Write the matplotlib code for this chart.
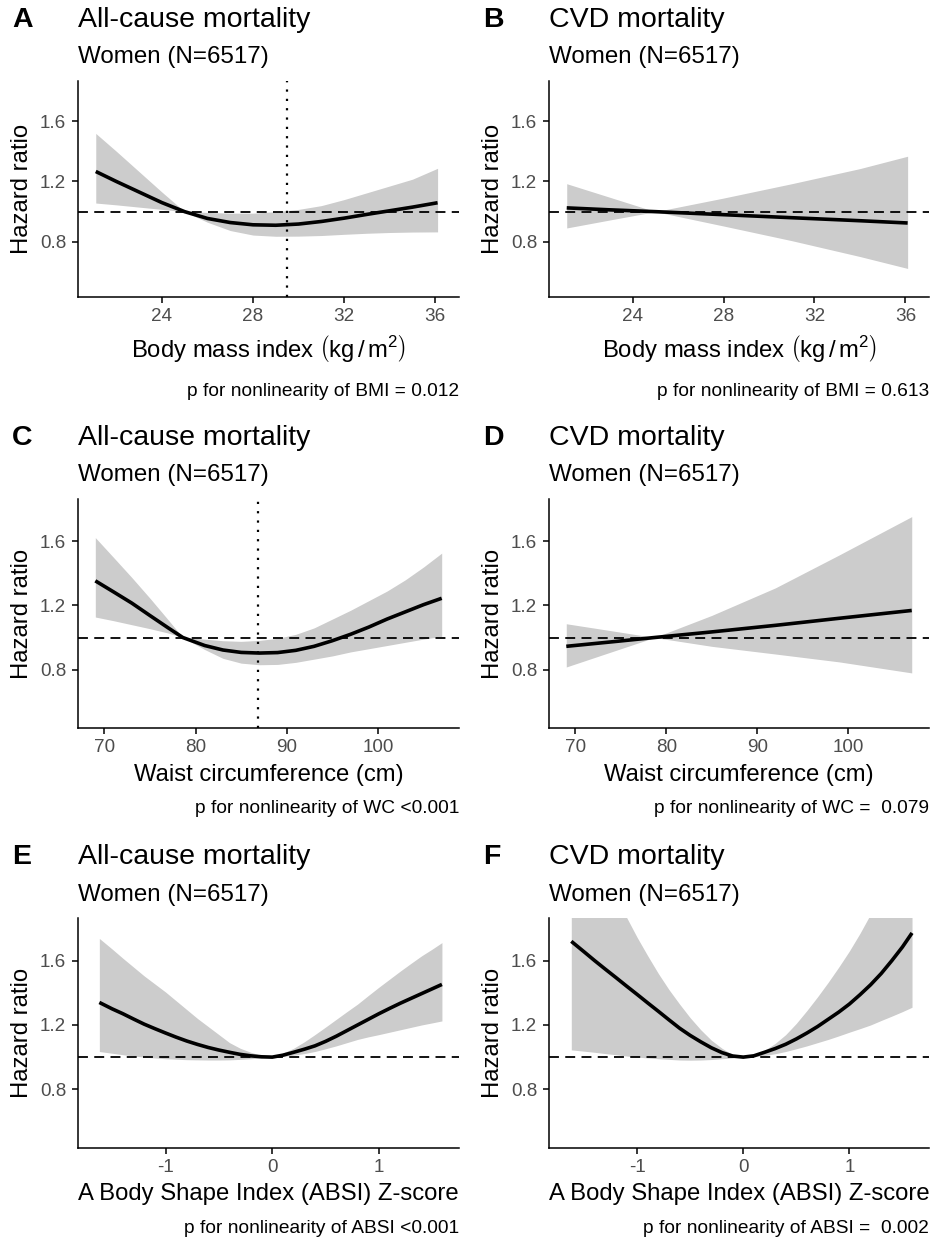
import matplotlib
matplotlib.use("Agg")
import matplotlib.pyplot as plt

plt.rcParams['font.family'] = ['Liberation Sans', 'DejaVu Sans']
plt.rcParams['mathtext.fontset'] = 'custom'
plt.rcParams['mathtext.rm'] = 'Liberation Sans'
plt.rcParams['mathtext.it'] = 'Liberation Sans:italic'
plt.rcParams['mathtext.bf'] = 'Liberation Sans:bold'

# ---------------- data ----------------
# Body mass index (kg/m^2)
bmi_x = [21.1, 22, 23, 24, 25, 26, 27, 28, 29, 30, 31, 32, 33, 34, 35, 36.1]
allcause_bmi_hr = [1.266, 1.20, 1.13, 1.06, 1.0, 0.955, 0.928, 0.913, 0.910, 0.918,
                   0.935, 0.957, 0.982, 1.006, 1.03, 1.059]
allcause_bmi_lo = [1.057, 1.045, 1.03, 1.015, 1.0, 0.93, 0.875, 0.845, 0.837, 0.838,
                   0.842, 0.85, 0.857, 0.862, 0.865, 0.866]
allcause_bmi_hi = [1.518, 1.40, 1.265, 1.13, 1.0, 0.995, 0.99, 0.99, 1.0, 1.015,
                   1.04, 1.08, 1.125, 1.17, 1.215, 1.287]

bmi_x_cvd = [21.1, 23, 25, 28, 31, 34, 36.1]
cvd_bmi_hr = [1.025, 1.012, 1.0, 0.98, 0.96, 0.94, 0.925]
cvd_bmi_lo = [0.892, 0.945, 1.0, 0.905, 0.808, 0.703, 0.624]
cvd_bmi_hi = [1.185, 1.095, 1.0, 1.09, 1.185, 1.285, 1.367]

# Waist circumference (cm)
wc_x = [69, 71, 73, 75, 77, 78.6, 81, 83, 85, 87, 89, 91, 93, 95, 97, 99, 101, 103, 105, 107]
allcause_wc_hr = [1.354, 1.285, 1.215, 1.137, 1.06, 1.0, 0.95, 0.922, 0.907, 0.903,
                  0.906, 0.92, 0.945, 0.98, 1.02, 1.065, 1.115, 1.16, 1.205, 1.245]
allcause_wc_lo = [1.128, 1.105, 1.08, 1.055, 1.028, 1.0, 0.925, 0.87, 0.84, 0.83,
                  0.832, 0.845, 0.865, 0.885, 0.91, 0.93, 0.95, 0.97, 0.99, 1.007]
allcause_wc_hi = [1.624, 1.50, 1.375, 1.245, 1.11, 1.0, 0.99, 0.98, 0.976, 0.982,
                  0.995, 1.02, 1.06, 1.115, 1.17, 1.23, 1.29, 1.36, 1.44, 1.527]

wc_x_cvd = [69, 74, 78.7, 85, 92, 99, 107]
cvd_wc_hr = [0.945, 0.973, 1.0, 1.035, 1.076, 1.12, 1.169]
cvd_wc_lo = [0.816, 0.911, 1.0, 0.945, 0.897, 0.848, 0.779]
cvd_wc_hi = [1.086, 1.042, 1.0, 1.138, 1.31, 1.515, 1.755]

# A Body Shape Index Z-score
absi_x = [-1.62, -1.5, -1.4, -1.3, -1.2, -1.1, -1.0, -0.9, -0.8, -0.7, -0.6, -0.5,
          -0.4, -0.3, -0.2, -0.1, 0.0, 0.1, 0.2, 0.3, 0.4, 0.5, 0.6, 0.7, 0.8,
          0.9, 1.0, 1.1, 1.2, 1.3, 1.4, 1.5, 1.59]
allcause_absi_hr = [1.340, 1.30, 1.27, 1.237, 1.205, 1.177, 1.15, 1.124, 1.10, 1.079,
                    1.06, 1.044, 1.03, 1.017, 1.008, 1.002, 1.0, 1.012, 1.03, 1.049,
                    1.07, 1.098, 1.13, 1.165, 1.20, 1.235, 1.27, 1.303, 1.335, 1.365,
                    1.395, 1.425, 1.452]
allcause_absi_lo = [1.035, 1.024, 1.015, 1.007, 1.0, 0.995, 0.99, 0.987, 0.984, 0.983,
                    0.982, 0.982, 0.983, 0.986, 0.99, 0.995, 1.0, 1.005, 1.012, 1.022,
                    1.035, 1.052, 1.07, 1.09, 1.11, 1.126, 1.14, 1.155, 1.17, 1.185,
                    1.2, 1.213, 1.225]
allcause_absi_hi = [1.738, 1.672, 1.615, 1.56, 1.505, 1.455, 1.405, 1.35, 1.295, 1.24,
                    1.19, 1.14, 1.09, 1.055, 1.03, 1.01, 1.0, 1.025, 1.055, 1.095,
                    1.14, 1.187, 1.235, 1.283, 1.33, 1.383, 1.435, 1.485, 1.535, 1.583,
                    1.63, 1.672, 1.712]

cvd_absi_hr = [1.72, 1.655, 1.60, 1.547, 1.495, 1.442, 1.39, 1.337, 1.285, 1.232,
               1.18, 1.135, 1.095, 1.058, 1.028, 1.007, 1.0, 1.008, 1.03, 1.053,
               1.08, 1.113, 1.15, 1.19, 1.235, 1.28, 1.33, 1.388, 1.45, 1.52,
               1.60, 1.685, 1.772]
cvd_absi_lo = [1.045, 1.037, 1.03, 1.022, 1.015, 1.007, 1.0, 0.995, 0.99, 0.986,
               0.982, 0.981, 0.982, 0.985, 0.99, 0.995, 0.998, 1.003, 1.01, 1.021,
               1.035, 1.052, 1.07, 1.09, 1.11, 1.132, 1.155, 1.177, 1.20, 1.228,
               1.255, 1.283, 1.31]
cvd_absi_hi = [2.65, 2.45, 2.30, 2.15, 2.0, 1.87, 1.745, 1.63, 1.52, 1.42,
               1.33, 1.245, 1.17, 1.105, 1.055, 1.015, 1.003, 1.015, 1.042, 1.085,
               1.14, 1.21, 1.29, 1.375, 1.465, 1.56, 1.66, 1.77, 1.89, 2.0,
               2.10, 2.25, 2.40]

bmi_cutpoint = 29.5
wc_cutpoint = 86.8

bmi_ticks = [24, 28, 32, 36]
wc_ticks = [70, 80, 90, 100]
absi_ticks = [-1, 0, 1]
absi_ticklabels = ['-1', '0', '1']
hr_ticks = [0.8, 1.2, 1.6]
hr_ticklabels = ['0.8', '1.2', '1.6']

# ---------------- figure ----------------
W, H = 933, 1240
fig = plt.figure(figsize=(W / 100, H / 100), dpi=100)

TICK_GREY = '#4D4D4D'
RIBBON = '#CCCCCC'
YLIM = (0.435, 1.865)


def add_axes_px(left, top, right, bottom):
    return fig.add_axes([left / W, 1 - bottom / H, (right - left) / W, (bottom - top) / H])


def ftext(x, y, s, **kw):
    fig.text(x / W, 1 - y / H, s, **kw)


panels = [
    dict(tag='A', title='All-cause mortality', box=(78, 81, 459, 297), tagx=12,
         x=bmi_x, hr=allcause_bmi_hr, lo=allcause_bmi_lo, hi=allcause_bmi_hi,
         xlim=(20.32, 37.04), ticks=bmi_ticks, labels=[str(t) for t in bmi_ticks],
         cut=bmi_cutpoint,
         xlabel=r'Body mass index $\left(\mathrm{kg\,/\,m^{2}}\right)$', xlab_dy=60,
         caption='p for nonlinearity of BMI = 0.012', cap_dy=99),
    dict(tag='B', title='CVD mortality', box=(549, 81, 929, 297), tagx=483,
         x=bmi_x_cvd, hr=cvd_bmi_hr, lo=cvd_bmi_lo, hi=cvd_bmi_hi,
         xlim=(20.32, 37.04), ticks=bmi_ticks, labels=[str(t) for t in bmi_ticks],
         cut=None,
         xlabel=r'Body mass index $\left(\mathrm{kg\,/\,m^{2}}\right)$', xlab_dy=60,
         caption='p for nonlinearity of BMI = 0.613', cap_dy=99),
    dict(tag='C', title='All-cause mortality', box=(78, 499, 459, 728), tagx=12,
         x=wc_x, hr=allcause_wc_hr, lo=allcause_wc_lo, hi=allcause_wc_hi,
         xlim=(67.1, 108.9), ticks=wc_ticks, labels=[str(t) for t in wc_ticks],
         cut=wc_cutpoint,
         xlabel='Waist circumference (cm)', xlab_dy=53,
         caption='p for nonlinearity of WC <0.001', cap_dy=85),
    dict(tag='D', title='CVD mortality', box=(549, 499, 929, 728), tagx=483,
         x=wc_x_cvd, hr=cvd_wc_hr, lo=cvd_wc_lo, hi=cvd_wc_hi,
         xlim=(67.1, 108.9), ticks=wc_ticks, labels=[str(t) for t in wc_ticks],
         cut=None,
         xlabel='Waist circumference (cm)', xlab_dy=53,
         caption='p for nonlinearity of WC =  0.079', cap_dy=85),
    dict(tag='E', title='All-cause mortality', box=(78, 918, 459, 1148), tagx=12,
         x=absi_x, hr=allcause_absi_hr, lo=allcause_absi_lo, hi=allcause_absi_hi,
         xlim=(-1.82, 1.75), ticks=absi_ticks, labels=absi_ticklabels,
         cut=None,
         xlabel='A Body Shape Index (ABSI) Z-score', xlab_dy=52,
         caption='p for nonlinearity of ABSI <0.001', cap_dy=85),
    dict(tag='F', title='CVD mortality', box=(549, 918, 929, 1148), tagx=483,
         x=absi_x, hr=cvd_absi_hr, lo=cvd_absi_lo, hi=cvd_absi_hi,
         xlim=(-1.83, 1.75), ticks=absi_ticks, labels=absi_ticklabels,
         cut=None,
         xlabel='A Body Shape Index (ABSI) Z-score', xlab_dy=52,
         caption='p for nonlinearity of ABSI =  0.002', cap_dy=85),
]

for p in panels:
    left, top, right, bottom = p['box']
    ax = add_axes_px(left, top, right, bottom)

    ax.fill_between(p['x'], p['lo'], p['hi'], color=RIBBON, linewidth=0, zorder=1)
    ax.plot(p['x'], p['hr'], color='black', lw=2.6, solid_capstyle='butt',
            solid_joinstyle='round', zorder=3)
    ax.axhline(1.0, color='black', lw=1.3, linestyle=(0, (5.5, 3.5)), zorder=4)
    if p['cut'] is not None:
        ax.axvline(p['cut'], color='black', lw=1.6, linestyle=(0, (1, 3.2)), zorder=4)

    ax.set_xlim(p['xlim'])
    ax.set_ylim(YLIM)
    ax.set_xticks(p['ticks'])
    ax.set_xticklabels(p['labels'])
    ax.set_yticks(hr_ticks)
    ax.set_yticklabels(hr_ticklabels)
    for side in ('top', 'right'):
        ax.spines[side].set_visible(False)
    for side in ('left', 'bottom'):
        ax.spines[side].set_linewidth(1.1)
        ax.spines[side].set_color('black')
    ax.tick_params(direction='out', length=4, width=1.1, colors='black',
                   labelcolor=TICK_GREY, labelsize=13.6)
    ax.tick_params(axis='x', pad=4)
    ax.tick_params(axis='y', pad=4.5)

    # headings
    ftext(p['tagx'], top - 54, p['tag'], fontsize=20.5, fontweight='bold',
          ha='left', va='baseline')
    ftext(left, top - 54, p['title'], fontsize=20.5, ha='left', va='baseline')
    ftext(left, top - 17.5, 'Women (N=6517)', fontsize=17.4, ha='left', va='baseline')

    # axis titles
    ftext(left - 56, (top + bottom) / 2, 'Hazard ratio', fontsize=17.2,
          rotation=90, ha='center', va='center')
    ftext((left + right) / 2, bottom + p['xlab_dy'], p['xlabel'], fontsize=17.2,
          ha='center', va='baseline')
    ftext(right, bottom + p['cap_dy'], p['caption'], fontsize=13.8,
          ha='right', va='baseline')

fig.savefig('out.png', dpi=100, facecolor='white')
